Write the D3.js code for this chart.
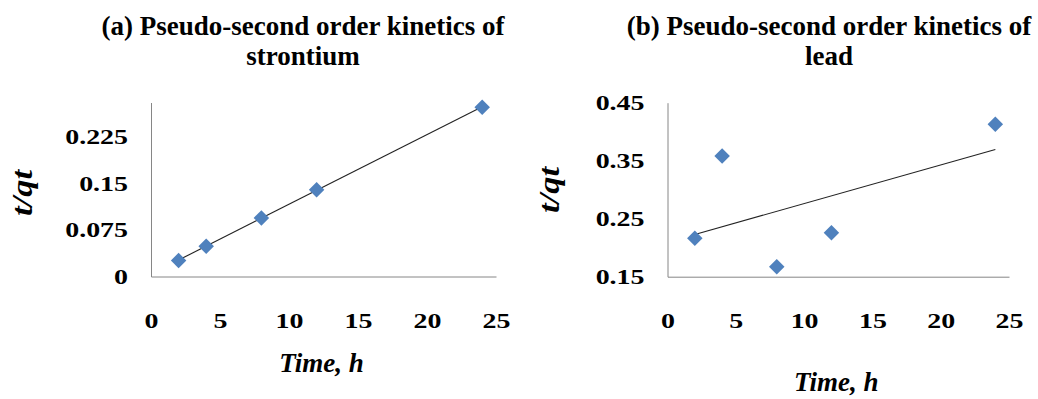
<!DOCTYPE html>
<html>
<head>
<meta charset="utf-8">
<script src="https://cdn.jsdelivr.net/npm/d3@7"></script>
<style>
  body { margin: 0; background: #fff; }
  svg { display: block; }
</style>
</head>
<body>
<svg id="chart" width="1038" height="399"></svg>
<script>
// data
var timeH = [2, 4, 8, 12, 24];
var srValues = [0.0257, 0.0487, 0.0943, 0.1397, 0.2725];
var pbValues = [0.2162, 0.358, 0.167, 0.2259, 0.413];
var xTicks = [0, 5, 10, 15, 20, 25];
var srTicks = [0, 0.075, 0.15, 0.225];
var pbTicks = [0.15, 0.25, 0.35, 0.45];

var serif = "'Liberation Serif', 'Times New Roman', serif";
var svg = d3.select("#chart").style("font-family", serif);
var markerColor = "#4F81BD";
var axisColor = "#868686";
var tickScale = 1.27;

var panels = [
  { title: ["(a) Pseudo-second order kinetics of", "strontium"], values: srValues, ticks: srTicks,
    yDomain: [0, 0.28], left: 151, right: 496, top: 102.5, bottom: 276.5,
    titleX: 303, xLabelY: 372, yLabelX: 23, yLabelY: 193 },
  { title: ["(b) Pseudo-second order kinetics of", "lead"], values: pbValues, ticks: pbTicks,
    yDomain: [0.15, 0.45], left: 667.5, right: 1009, top: 102.7, bottom: 276.7,
    titleX: 829, xLabelY: 391, yLabelX: 550, yLabelY: 190 }
];

// least squares line, like the excel trendline
function linFit(xs, ys) {
  var mx = d3.mean(xs), my = d3.mean(ys);
  var sxy = d3.sum(xs, function (x, i) { return (x - mx) * (ys[i] - my); });
  var sxx = d3.sum(xs, function (x) { return (x - mx) * (x - mx); });
  var b = sxy / sxx;
  return function (x) { return my + b * (x - mx); };
}

panels.forEach(function (p) {
  var x = d3.scaleLinear().domain([0, 25]).range([p.left, p.right]);
  var y = d3.scaleLinear().domain(p.yDomain).range([p.bottom, p.top]);
  var g = svg.append("g");

  // title
  p.title.forEach(function (line, i) {
    g.append("text")
      .attr("x", p.titleX).attr("y", 35 + i * 30)
      .attr("text-anchor", "middle")
      .style("font-family", serif)
      .style("font-size", "27px").style("font-weight", "bold")
      .text(line);
  });

  // axes
  var xAxis = g.append("g")
    .attr("transform", "translate(0," + p.bottom + ")")
    .call(d3.axisBottom(x).tickValues(xTicks).tickSize(0).tickSizeOuter(0));
  xAxis.attr("font-family", null);
  xAxis.select(".domain").attr("stroke", axisColor);
  xAxis.selectAll(".tick text")
    .attr("y", 36)
    .attr("transform", "scale(" + tickScale + ",1)")
    .attr("x", 0)
    .attr("fill", "#000")
    .style("font-family", serif)
    .style("font-size", "22px").style("font-weight", "bold");

  var yAxis = g.append("g")
    .attr("transform", "translate(" + p.left + ",0)")
    .call(d3.axisLeft(y).tickValues(p.ticks).tickSize(0).tickSizeOuter(0)
      .tickFormat(function (d) { return String(d); }));
  yAxis.attr("font-family", null);
  yAxis.select(".domain").attr("stroke", axisColor);
  yAxis.selectAll(".tick text")
    .attr("x", -23 / tickScale)
    .attr("transform", "scale(" + tickScale + ",1)")
    .attr("fill", "#000")
    .style("font-family", serif)
    .style("font-size", "22px").style("font-weight", "bold");

  // axis titles
  g.append("text")
    .attr("x", (p.left + p.right) / 2 - 2).attr("y", p.xLabelY)
    .attr("text-anchor", "middle")
    .style("font-family", serif)
    .style("font-size", "27px").style("font-weight", "bold").style("font-style", "italic")
    .text("Time, h");
  g.append("text")
    .attr("transform", "translate(" + p.yLabelX + "," + p.yLabelY + ") rotate(-90)")
    .attr("text-anchor", "middle")
    .attr("dy", "0.3em")
    .attr("textLength", 46).attr("lengthAdjust", "spacingAndGlyphs")
    .style("font-family", serif)
    .style("font-size", "30px").style("font-weight", "bold").style("font-style", "italic")
    .text("t/qt");

  // trendline
  var fit = linFit(timeH, p.values);
  var ends = d3.extent(timeH);
  g.append("line")
    .attr("x1", x(ends[0])).attr("y1", y(fit(ends[0])))
    .attr("x2", x(ends[1])).attr("y2", y(fit(ends[1])))
    .attr("stroke", "#222").attr("stroke-width", 1.1);

  // markers
  g.selectAll("path.pt")
    .data(timeH)
    .enter().append("path")
    .attr("class", "pt")
    .attr("d", d3.symbol(d3.symbolSquare).size(120))
    .attr("transform", function (d, i) {
      return "translate(" + x(d) + "," + y(p.values[i]) + ") rotate(45)";
    })
    .attr("fill", markerColor);
});
</script>
</body>
</html>
